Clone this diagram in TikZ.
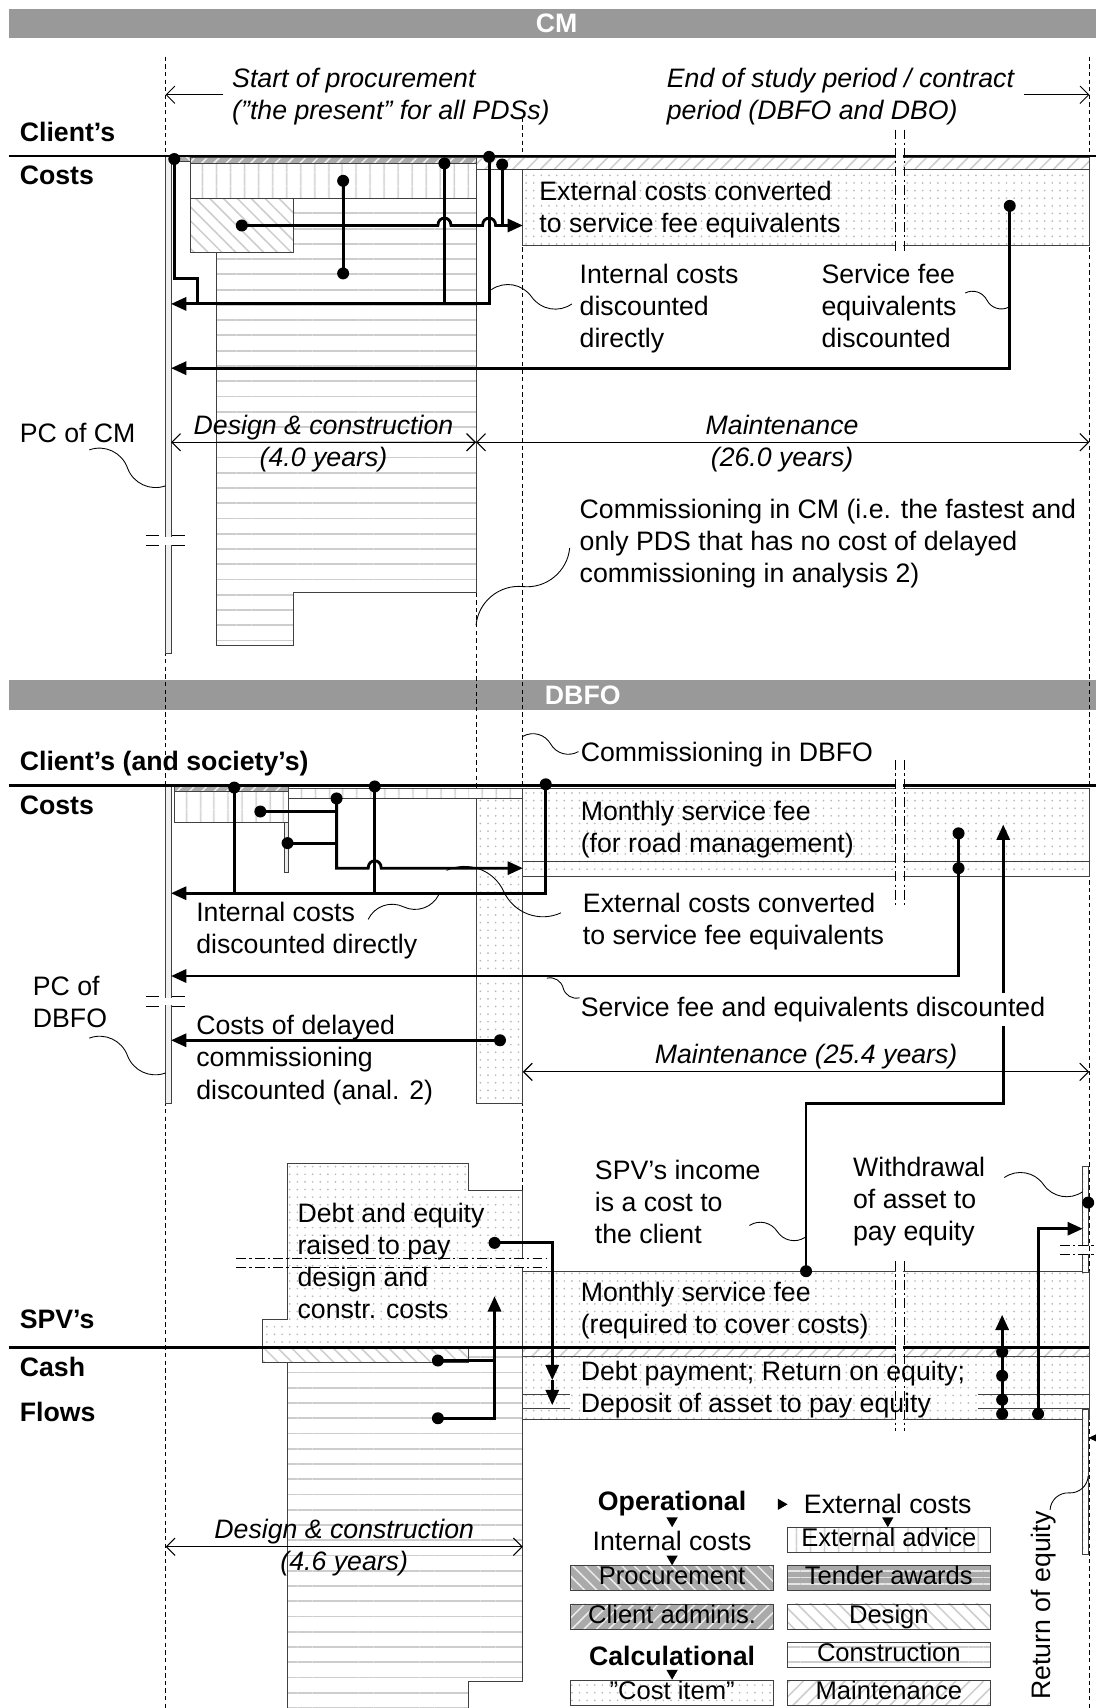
\documentclass[tikz,border=0pt]{standalone}
\usepackage{fontspec}
\setmainfont{Liberation Sans}
\usetikzlibrary{arrows.meta,patterns.meta,calc,shapes.geometric}
\newcommand\fs{\fontsize{24.5}{29.5}\selectfont}
\newcommand\lfs{\fontsize{23.5}{28}\selectfont}
\definecolor{hdrgray}{RGB}{153,153,153}
\definecolor{darkfill}{RGB}{170,170,170}
\definecolor{lightln}{RGB}{205,205,205}
\newcounter{ldrc}
\newcommand\ldr[2]{\stepcounter{ldrc}%
  \coordinate (L\theldrc a) at (#1); \coordinate (L\theldrc b) at (#2);
  \draw[leader] (L\theldrc a) to[bend left=45] ($(L\theldrc a)!0.5!(L\theldrc b)$) to[bend right=45] (L\theldrc b);}
\tikzset{
  dsh/.style={line width=0.8pt, dash pattern=on 4pt off 3pt},
  dd/.style={line width=1pt, dash pattern=on 9pt off 3pt on 2pt off 3pt},
  axis/.style={line width=2.2pt},
  conn/.style={line width=2.6pt},
  arr/.style={conn,-{Triangle[length=14pt,width=12pt]}},
  dim/.style={line width=1pt,{Straight Barb[length=8pt,width=16pt]}-{Straight Barb[length=8pt,width=16pt]}},
  thinarr/.style={line width=0.8pt,-{Straight Barb[length=8pt,width=16pt]}},
  dot/.style={circle,fill=black,inner sep=0pt,minimum size=11pt},
  leader/.style={line width=0.8pt},
  txt/.style={font=\fs,inner sep=0pt,anchor=north west,align=left},
  btxt/.style={txt,font=\fs\bfseries},
  ctxt/.style={font=\fs\itshape,inner sep=0pt,anchor=north,align=center},
  blk/.style={draw=black!75,line width=0.9pt},
  pcons/.style={preaction={fill=white},pattern={Lines[angle=0,distance=14pt,line width=1.8pt]},pattern color=lightln},
  pext/.style={preaction={fill=white},pattern={Lines[angle=90,distance=13pt,line width=1.4pt]},pattern color=lightln},
  pdes/.style={preaction={fill=white},pattern={Lines[angle=-45,distance=9pt,line width=1.4pt]},pattern color=lightln},
  pmnt/.style={preaction={fill=white},pattern={Lines[angle=45,distance=9pt,line width=1.4pt]},pattern color=lightln},
  pcost/.style={preaction={fill=white},pattern={Dots[distance=7pt,radius=0.9pt]},pattern color=gray!55},
  padm/.style={preaction={fill=darkfill},pattern={Lines[angle=45,distance=8pt,line width=1.4pt]},pattern color=gray!15},
  pprc/.style={preaction={fill=darkfill},pattern={Lines[angle=-45,distance=8pt,line width=1.4pt]},pattern color=gray!15},
  ptnd/.style={preaction={fill=darkfill},pattern={Lines[angle=0,distance=6pt,line width=1.4pt]},pattern color=gray!20},
  hdrbar/.style={fill=hdrgray,inner sep=0pt,minimum width=998pt,minimum height=27pt},
  hdrtxt/.style={text=white,font=\fs\bfseries,inner sep=0pt},
  lbox/.style={blk,font=\lfs,inner sep=0pt,minimum width=186pt,minimum height=23pt,text height=16.5pt,text depth=4.5pt},
  tri/.style={regular polygon,regular polygon sides=3,fill=black,inner sep=0pt,minimum size=12pt},
}
\begin{document}
\begin{tikzpicture}[x=1pt,y=-1pt]
\useasboundingbox (0,0) rectangle (1006,1568);
\fill[white] (0,0) rectangle (1006,1568);

% ---------- headers ----------
\node[hdrbar] (hCM) at (507,21.5) {};
\node[hdrtxt] (hCMt) at (511,21.5) {CM};
\node[hdrbar] (hDB) at (507,638) {};
\node[hdrtxt] (hDBt) at (535,638) {DBFO};

% ---------- guide lines ----------
\draw[dsh] (152,52) -- (152,1568);
\draw[dsh] (1000,52) -- (1000,1568);
\draw[dsh] (480,108) -- (480,1093);
\draw[dsh] (437,544) -- (437,733);

\coordinate (aS1) at (205,87); \coordinate (aS2) at (152,87);
\coordinate (aE1) at (940,87); \coordinate (aE2) at (1000,87);
\draw[thinarr] (aS1) -- (aS2);
\draw[thinarr] (aE1) -- (aE2);

% ================= CM =================
\draw[blk,line width=0.7pt,fill=gray!12] (152,143) rectangle (157,600);
\draw[blk,pprc] (157,144) rectangle (175,148);
\draw[blk,padm] (175,145) rectangle (437,150);
\draw[blk,pext] (175,150) rectangle (437,182);
\draw[blk,pcons] (269,182) -- (437,182) -- (437,544) -- (269,544) -- (269,593) -- (199,593) -- (199,232) -- (269,232) -- cycle;
\draw[blk,pdes] (175,182) rectangle (269,232);
\draw[blk,pmnt] (437,145) rectangle (1000,156);
\draw[blk,pcost] (480,156) rectangle (1000,225);
\draw[axis] (8,143) -- (1006,143);
\fill[white] (823,138) rectangle (829,228);
\draw[dd] (822,119) -- (822,231);
\draw[dd] (830,119) -- (830,231);
% PC break
\fill[white] (150,493) rectangle (159,500);
\draw[line width=1pt] (134,492) -- (146,492) (158,492) -- (170,492) (134,501) -- (146,501) (158,501) -- (170,501);

\node[dot] (c1) at (160,146) {};
\node[dot] (c2) at (408,150) {};
\node[dot] (c3) at (449,144) {};
\node[dot] (c4) at (461,151) {};
\node[dot] (c5) at (222,207) {};
\node[dot] (c6) at (315,166) {};
\node[dot] (c7) at (315,251) {};
\node[dot] (c8) at (927,189) {};
\coordinate (cA1) at (157,279);
\coordinate (cA2) at (157,338);
\coordinate (cA3) at (480,207);
\draw[arr] (c3.center) -- (449,279) -- (cA1);
\draw[conn] (c2.center) -- (408,279);
\draw[conn] (c1.center) -- (160,256) -- (181,256) -- (181,279);
\draw[conn] (c6.center) -- (c7.center);
\draw[arr] (c5.center) -- (402,207) .. controls (402,198) and (414,198) .. (414,207) -- (443,207) .. controls (443,198) and (455,198) .. (455,207) -- (cA3);
\draw[conn] (c4.center) -- (461,207);
\draw[arr] (c8.center) -- (927,338) -- (cA2);

\coordinate (dm1) at (157,406); \coordinate (dm2) at (437,406); \coordinate (dm3) at (1000,406);
\draw[dim] (dm1) -- (dm2);
\draw[dim] (dm2) -- (dm3);

% ================= DBFO =================
\draw[blk,line width=0.7pt,fill=gray!12] (152,721) rectangle (157,1013);
\draw[blk,pext] (265,724) rectangle (480,733);
\draw[blk,padm] (160,721) rectangle (265,727);
\draw[blk,pext] (160,727) rectangle (265,755);
\draw[blk,fill=gray!15] (261,755) rectangle (265,801);
\draw[blk,pcost] (437,733) rectangle (480,1013);
\draw[blk,pcost] (480,724) rectangle (1000,805);
\draw[blk] (480,791) -- (1000,791);
\draw[axis] (8,721) -- (1006,721);
\fill[white] (823,716) rectangle (829,808);
\draw[dd] (822,698) -- (822,832);
\draw[dd] (830,698) -- (830,832);
\fill[white] (150,916) rectangle (159,923);
\draw[line width=1pt] (134,915) -- (146,915) (158,915) -- (170,915) (134,924) -- (146,924) (158,924) -- (170,924);

\node[dot] (e1) at (215,723) {};
\node[dot] (e2) at (344,722) {};
\node[dot] (e3) at (501,720) {};
\node[dot] (e4) at (309,733) {};
\node[dot] (e5) at (239,745) {};
\node[dot] (e6) at (264,774) {};
\node[dot] (e7) at (880,765) {};
\node[dot] (e8) at (880,797) {};
\node[dot] (e9) at (459,955) {};
\coordinate (eA1) at (157,820);
\coordinate (eA2) at (480,797);
\coordinate (eA3) at (157,896);
\coordinate (eA4) at (157,955);
\draw[conn] (e1.center) -- (215,820);
\draw[conn] (e2.center) -- (344,820);
\draw[arr] (e3.center) -- (501,820) -- (eA1);
\draw[arr] (e4.center) -- (309,797) -- (338,797) .. controls (338,788) and (350,788) .. (350,797) -- (eA2);
\draw[conn] (e5.center) -- (309,745);
\draw[conn] (e6.center) -- (309,774);
\draw[arr] (e7.center) -- (880,896) -- (eA3);
\draw[arr] (e9.center) -- (eA4);
\coordinate (dm4) at (480,984); \coordinate (dm5) at (1000,984);
\draw[dim] (dm4) -- (dm5);

% ================= SPV =================
\draw[blk,pcost] (264,1068) -- (430,1068) -- (430,1093) -- (480,1093) -- (480,1237) -- (241,1237) -- (241,1211) -- (264,1211) -- cycle;
\draw[blk,pdes] (241,1237) rectangle (430,1251);
\draw[blk,pcons] (264,1251) -- (430,1251) -- (430,1237) -- (480,1237) -- (480,1544) -- (430,1544) -- (430,1570) -- (264,1570) -- cycle;
\draw[blk,pcost] (480,1167) rectangle (1000,1303);
\draw[blk,pmnt] (480,1237) rectangle (1000,1245);
\draw[blk] (480,1280) -- (523,1280) (480,1293) -- (523,1293) (898,1280) -- (1000,1280) (898,1293) -- (1000,1293);
\draw[blk,pcost] (994,1071) rectangle (999,1168);
\draw[blk,pcost] (994,1294) rectangle (999,1427);
\draw[axis] (8,1237) -- (1000,1237);
\fill[white] (823,1163) rectangle (829,1306);
\draw[dd] (822,1158) -- (822,1314);
\draw[dd] (830,1158) -- (830,1314);
\fill[white] (477,1156) rectangle (483,1163);
\draw[dd] (217,1155) -- (502,1155);
\draw[dd] (217,1164) -- (502,1164);
\fill[white] (993,1144) rectangle (1000,1151);
\draw[dd] (973,1143) -- (1006,1143);
\draw[dd] (973,1152) -- (1006,1152);

\node[dot] (s1) at (740,1167) {};
\node[dot] (s2) at (454,1141) {};
\node[dot] (s3) at (402,1249) {};
\node[dot] (s4) at (402,1302) {};
\node[dot] (s5) at (920,1241) {};
\node[dot] (s6) at (920,1263) {};
\node[dot] (s7) at (920,1285) {};
\node[dot] (s8) at (920,1298) {};
\node[dot] (s9) at (953,1298) {};
\node[dot] (s10) at (999,1104) {};
\coordinate (sA1) at (921,757);
\coordinate (sA2) at (507,1267);
\coordinate (sA3) at (507,1290);
\coordinate (sA4) at (454,1190);
\coordinate (sA5) at (920,1207);
\coordinate (sA6) at (994,1128);
\coordinate (sA7) at (1013,1320);
\coordinate (sA8) at (999,1320);
\draw[arr] (s1.center) -- (740,1013) -- (921,1013) -- (sA1);
\draw[arr] (s2.center) -- (507,1141) -- (sA2);
\draw[arr] (sA2) -- (sA3);
\draw[conn] (s3.center) -- (454,1249);
\draw[arr] (s4.center) -- (454,1302) -- (sA4);
\draw[arr] (s8.center) -- (sA5);
\draw[arr] (s9.center) -- (953,1128) -- (sA6);
\draw[arr] (sA7) -- (sA8);
\coordinate (dm6) at (152,1420); \coordinate (dm7) at (480,1420);
\draw[dim] (dm6) -- (dm7);

% ---------- leaders ----------
\ldr{451,266}{525,279}
\ldr{886,269}{926,282}
\ldr{82,413}{152,446}
\ldr{437,574}{523,503}
\ldr{480,676}{531,690}
\ldr{410,799}{515,838}
\ldr{338,844}{403,821}
\ldr{502,898}{532,916}
\ldr{82,953}{152,985}
\ldr{688,1125}{739,1136}
\ldr{922,1081}{994,1094}
\ldr{964,1386}{999,1355}

% ---------- texts CM ----------
\node[txt,font=\fs\itshape] (tStart) at (213,62) {Start of procurement\\(”the present” for all PDSs)};
\node[txt,font=\fs\itshape] (tEnd) at (612,62) {End of study period / contract\\period (DBFO and DBO)};
\node[btxt] (tCl1) at (18,112) {Client’s};
\node[btxt] (tCo1) at (18,152) {Costs};
\node[txt] (tExt1) at (495,166) {External costs converted\\to service fee equivalents};
\node[txt] (tInt1) at (532,242) {Internal costs\\discounted\\directly};
\node[txt] (tSvc1) at (754,242) {Service fee\\equivalents\\discounted};
\node[txt] (tPC1) at (18,388) {PC of CM};
\node[ctxt] (tDC1) at (297,381) {Design \& construction\\(4.0 years)};
\node[ctxt] (tM1) at (718,381) {Maintenance\\(26.0 years)};
\node[txt] (tCom1) at (532,458) {Commissioning in CM (i.e. the fastest and\\only PDS that has no cost of delayed\\commissioning in analysis 2)};

% ---------- texts DBFO ----------
\node[btxt] (tCl2) at (18,689) {Client’s (and society’s)};
\node[btxt] (tCo2) at (18,730) {Costs};
\node[txt] (tCom2) at (533,681) {Commissioning in DBFO};
\node[txt] (tMon2) at (533,735) {Monthly service fee\\(for road management)};
\node[txt] (tInt2) at (180,828) {Internal costs\\discounted directly};
\node[txt] (tExt2) at (535,820) {External costs converted\\to service fee equivalents};
\node[txt] (tPC2) at (30,896) {PC of\\DBFO};
\node[txt,fill=white,inner ysep=4pt] (tSvc2) at (533,911) {Service fee and equivalents discounted};
\node[txt] (tDel2) at (180,932) {Costs of delayed\\commissioning\\discounted (anal. 2)};
\node[ctxt] (tM2) at (740,958) {Maintenance (25.4 years)};

% ---------- texts SPV ----------
\node[txt] (tInc) at (546,1065) {SPV’s income\\is a cost to\\the client};
\node[txt] (tWd) at (783,1062) {Withdrawal\\of asset to\\pay equity};
\node[txt] (tDebt) at (273,1104) {Debt and equity\\raised to pay\\design and\\constr. costs};
\node[btxt] (tSPV) at (18,1202) {SPV’s};
\node[btxt] (tCash) at (18,1246) {Cash};
\node[btxt] (tFl) at (18,1287) {Flows};
\node[txt] (tMon3) at (533,1177) {Monthly service fee\\(required to cover costs)};
\node[txt] (tDp3) at (533,1249) {Debt payment; Return on equity;\\Deposit of asset to pay equity};
\node[ctxt] (tDC3) at (316,1394) {Design \& construction\\(4.6 years)};
\node[font=\fs,rotate=90,inner sep=0pt] (tRet) at (958,1474) {Return of equity};

% ---------- legend ----------
\node[font=\fs\bfseries,inner sep=0pt] (lOp) at (617,1380) {Operational};
\node[tri,rotate=-90] (lTr) at (717,1381) {};
\node[font=\fs,inner sep=0pt] (lExt) at (815,1381) {External costs};
\node[font=\fs,inner sep=0pt] (lInt) at (617,1415) {Internal costs};
\node[font=\fs\bfseries,inner sep=0pt] (lCal) at (617,1520) {Calculational};
\node[tri,rotate=180] (lT1) at (617,1396) {};
\node[tri,rotate=180] (lT2) at (815,1396) {};
\node[tri,rotate=180] (lT3) at (617,1431) {};
\node[tri,rotate=180] (lT4) at (617,1536) {};
\node[lbox,pext] (lg1) at (816,1414) {External advice};
\node[lbox,pprc] (lg2) at (617,1449) {Procurement};
\node[lbox,ptnd] (lg3) at (816,1449) {Tender awards};
\node[lbox,padm] (lg4) at (617,1484) {Client adminis.};
\node[lbox,pdes] (lg5) at (816,1484) {Design};
\node[lbox,pcons] (lg6) at (816,1519) {Construction};
\node[lbox,pcost] (lg7) at (617,1554) {”Cost item”};
\node[lbox,pmnt] (lg8) at (816,1554) {Maintenance};
\end{tikzpicture}
\end{document}
